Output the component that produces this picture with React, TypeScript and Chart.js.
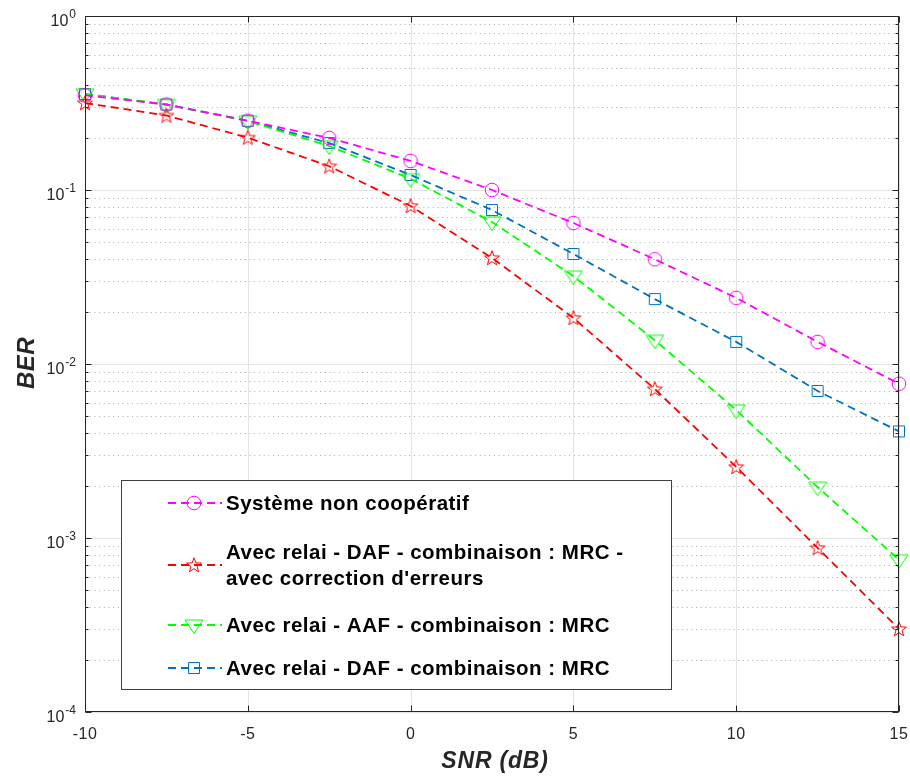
import React, { useEffect, useRef } from "react";
import { Chart, registerables } from "chart.js";

Chart.register(...registerables);

const snr = [-10, -7.5, -5, -2.5, 0, 2.5, 5, 7.5, 10, 12.5, 15];
const nonCoop = [0.35, 0.31, 0.25, 0.199, 0.147, 0.1, 0.0646, 0.04, 0.024, 0.0134, 0.0077];
const dafCorr = [0.316, 0.268, 0.2, 0.137, 0.081, 0.0407, 0.0184, 0.00718, 0.00256, 0.000877, 0.0003];
const aaf = [0.356, 0.31, 0.249, 0.179, 0.116, 0.0655, 0.032, 0.0137, 0.00544, 0.00196, 0.00075];
const daf = [0.356, 0.31, 0.25, 0.186, 0.122, 0.0767, 0.0429, 0.0236, 0.0134, 0.007, 0.0041];

const xTicks = [-10, -5, 0, 5, 10, 15];
const yDecades = [0, -1, -2, -3, -4];

const seriesLabels = [
  ["Système non coopératif"],
  ["Avec relai - DAF - combinaison : MRC -", "avec correction d'erreurs"],
  ["Avec relai - AAF - combinaison : MRC"],
  ["Avec relai - DAF - combinaison : MRC"],
];
const seriesColors = ["#FF00FF", "#FF0000", "#00FF00", "#0072BD"];
const seriesMarkers = ["circle", "star", "triangleDown", "square"];

const FONT = "'Liberation Sans', Arial, Helvetica, sans-serif";
const TEXT = "#262626";

function makeMarker(kind: string, color: string): HTMLCanvasElement {
  const s = 22;
  const c = document.createElement("canvas");
  c.width = s;
  c.height = s;
  const g = c.getContext("2d")!;
  g.strokeStyle = color;
  g.lineWidth = 1;
  const cx = s / 2, cy = s / 2;
  g.beginPath();
  if (kind === "circle") {
    g.arc(cx, cy, 6.8, 0, Math.PI * 2);
  } else if (kind === "square") {
    g.rect(cx - 5.5, cy - 5.5, 11, 11);
  } else if (kind === "triangleDown") {
    g.moveTo(cx - 9, cy - 5);
    g.lineTo(cx + 9, cy - 5);
    g.lineTo(cx, cy + 8.5);
    g.closePath();
  } else if (kind === "star") {
    const R = 7.8, r = 3.2;
    for (let i = 0; i < 10; i++) {
      const ang = -Math.PI / 2 + (i * Math.PI) / 5;
      const rad = i % 2 === 0 ? R : r;
      const px = cx + rad * Math.cos(ang);
      const py = cy + 0.5 + rad * Math.sin(ang);
      if (i === 0) g.moveTo(px, py);
      else g.lineTo(px, py);
    }
    g.closePath();
  }
  g.stroke();
  return c;
}

export default function App() {
  const ref = useRef<HTMLCanvasElement | null>(null);

  useEffect(() => {
    const canvas = ref.current;
    if (!canvas) return;
    const markers = seriesMarkers.map((m, i) => makeMarker(m, seriesColors[i]));
    const values = [nonCoop, dafCorr, aaf, daf];

    const gridPlugin = {
      id: "matlabGrid",
      beforeDatasetsDraw(chart: any) {
        const { ctx, chartArea: a, scales } = chart;
        const xs = scales.x, ys = scales.y;
        ctx.save();
        ctx.lineWidth = 1;
        ctx.strokeStyle = "rgba(0,0,0,0.32)";
        ctx.setLineDash([1, 3.7]);
        for (const d of yDecades) {
          if (d === 0) continue;
          for (let m = 2; m <= 9; m++) {
            const y = Math.round(ys.getPixelForValue(m * Math.pow(10, d))) + 0.5;
            ctx.beginPath();
            ctx.moveTo(a.left, y);
            ctx.lineTo(a.right, y);
            ctx.stroke();
          }
        }
        ctx.setLineDash([]);
        ctx.strokeStyle = "#e3e3e3";
        for (const d of yDecades) {
          const y = Math.round(ys.getPixelForValue(Math.pow(10, d))) + 0.5;
          ctx.beginPath();
          ctx.moveTo(a.left, y);
          ctx.lineTo(a.right, y);
          ctx.stroke();
        }
        for (const t of xTicks) {
          const x = Math.round(xs.getPixelForValue(t)) + 0.5;
          ctx.beginPath();
          ctx.moveTo(x, a.top);
          ctx.lineTo(x, a.bottom);
          ctx.stroke();
        }
        ctx.restore();
      },
      afterDatasetsDraw(chart: any) {
        const { ctx, chartArea: a, scales } = chart;
        const xs = scales.x, ys = scales.y;
        ctx.save();
        ctx.strokeStyle = TEXT;
        ctx.lineWidth = 1;
        const L = Math.round(a.left) + 0.5, R = Math.round(a.right) - 0.5;
        const T = Math.round(a.top) + 0.5, B = Math.round(a.bottom) - 0.5;
        ctx.strokeRect(L, T, R - L, B - T);
        ctx.beginPath();
        for (const d of yDecades) {
          for (let m = 1; m <= 9; m++) {
            if (d === 0 && m > 1) continue;
            const y = Math.round(ys.getPixelForValue(m * Math.pow(10, d))) + 0.5;
            const len = m === 1 ? 6 : 3;
            ctx.moveTo(L, y);
            ctx.lineTo(L + len, y);
            ctx.moveTo(R, y);
            ctx.lineTo(R - len, y);
          }
        }
        for (const t of xTicks) {
          const x = Math.round(xs.getPixelForValue(t)) + 0.5;
          ctx.moveTo(x, B);
          ctx.lineTo(x, B - 6);
          ctx.moveTo(x, T);
          ctx.lineTo(x, T + 6);
        }
        ctx.stroke();

        ctx.fillStyle = TEXT;
        ctx.textBaseline = "alphabetic";

        // x tick labels
        ctx.font = `16px ${FONT}`;
        ctx.textAlign = "center";
        (ctx as any).letterSpacing = "0.5px";
        for (const t of xTicks) {
          ctx.fillText(String(t), xs.getPixelForValue(t), a.bottom + 27);
        }
        (ctx as any).letterSpacing = "0px";

        // y tick labels 10^n
        ctx.textAlign = "right";
        const rightEdge = 76;
        for (const d of yDecades) {
          const y = ys.getPixelForValue(Math.pow(10, d));
          const sup = d === 0 ? "0" : "-" + String(-d);
          ctx.font = `12px ${FONT}`;
          const sw = ctx.measureText(sup).width;
          ctx.fillText(sup, rightEdge, y + 1.5);
          ctx.font = `16px ${FONT}`;
          ctx.fillText("10", rightEdge - sw - 1, y + 9.5);
        }

        // axis titles
        ctx.font = `italic bold 23px ${FONT}`;
        ctx.textAlign = "center";
        (ctx as any).letterSpacing = "0.8px";
        ctx.fillText("SNR (dB)", 495, 768);
        ctx.save();
        ctx.translate(34, 363);
        ctx.rotate(-Math.PI / 2);
        ctx.font = `italic bold 24px ${FONT}`;
        (ctx as any).letterSpacing = "0.5px";
        ctx.fillText("BER", 0, 0);
        ctx.restore();
        (ctx as any).letterSpacing = "0px";

        // legend
        const bx = 121.5, by = 480.5, bw = 550, bh = 209;
        ctx.fillStyle = "#ffffff";
        ctx.fillRect(bx, by, bw, bh);
        ctx.strokeStyle = "#404040";
        ctx.strokeRect(bx, by, bw, bh);
        const rows = [
          { marker: 503, lines: [503] },
          { marker: 565, lines: [552, 578] },
          { marker: 625, lines: [625] },
          { marker: 668, lines: [668] },
        ];
        rows.forEach((r, i) => {
          ctx.save();
          ctx.strokeStyle = seriesColors[i];
          ctx.lineWidth = 1.8;
          ctx.setLineDash([8, 5]);
          ctx.beginPath();
          ctx.moveTo(168, r.marker);
          ctx.lineTo(222, r.marker);
          ctx.stroke();
          ctx.restore();
          const mk = markers[i];
          ctx.drawImage(mk, 194 - mk.width / 2, r.marker - mk.height / 2);
          ctx.fillStyle = "#000000";
          ctx.font = `bold 20.5px ${FONT}`;
          (ctx as any).letterSpacing = "0.5px";
          ctx.textAlign = "left";
          ctx.textBaseline = "middle";
          seriesLabels[i].forEach((txt, k) => ctx.fillText(txt, 226, r.lines[k] + 1));
          (ctx as any).letterSpacing = "0px";
        });
        ctx.restore();
      },
    };

    const chart = new Chart(canvas, {
      type: "line",
      data: {
        datasets: values.map((vals, i) => ({
          label: seriesLabels[i].join(" "),
          data: snr.map((x, k) => ({ x, y: vals[k] })),
          borderColor: seriesColors[i],
          backgroundColor: seriesColors[i],
          borderWidth: 1.8,
          borderDash: [8, 5],
          pointStyle: markers[i] as any,
          pointRadius: 8,
          pointHoverRadius: 8,
          tension: 0,
          clip: false as any,
        })),
      },
      options: {
        animation: false,
        responsive: false,
        devicePixelRatio: 1,
        layout: { padding: { top: 16, right: 11, left: 0, bottom: 0 } },
        plugins: { legend: { display: false }, tooltip: { enabled: false } },
        events: [],
        scales: {
          x: {
            type: "linear",
            min: -10,
            max: 15,
            ticks: { display: false, stepSize: 5 },
            grid: { display: false, drawTicks: false },
            border: { display: false },
            afterFit: (s: any) => {
              s.height = 65;
            },
          },
          y: {
            type: "logarithmic",
            min: 1e-4,
            max: 1,
            ticks: { display: false },
            grid: { display: false, drawTicks: false },
            border: { display: false },
            afterFit: (s: any) => {
              s.width = 85;
            },
          },
        },
      },
      plugins: [gridPlugin],
    });
    return () => chart.destroy();
  }, []);

  return (
    <div style={{ width: 894, height: 761, position: "relative" }}>
      <canvas
        ref={ref}
        width={910}
        height={777}
        style={{ display: "block", position: "fixed", left: 0, top: 0, width: 910, height: 777 }}
      />
    </div>
  );
}
